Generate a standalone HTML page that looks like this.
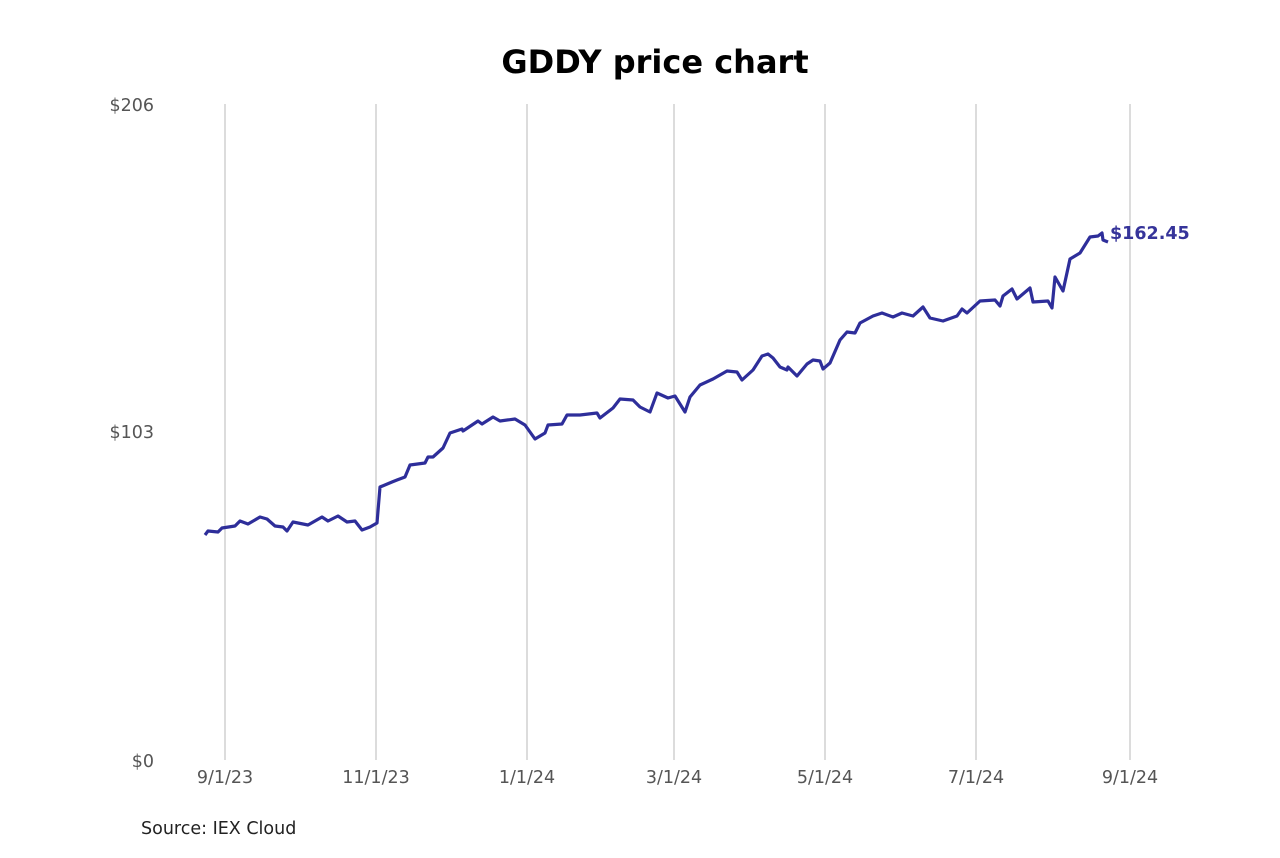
<!DOCTYPE html>
<html><head><meta charset="utf-8"><style>
body{margin:0;background:#fff;}
</style></head><body>
<svg width="1280" height="853" xmlns="http://www.w3.org/2000/svg" font-family="'DejaVu Sans','Liberation Sans',sans-serif">
<rect width="1280" height="853" fill="#fff"/>
<text x="655" y="73" text-anchor="middle" font-size="32" font-weight="bold" fill="#000">GDDY price chart</text>
<g stroke="#c4c4c4" stroke-width="1.2">
<line x1="225" y1="104" x2="225" y2="760"/><line x1="376" y1="104" x2="376" y2="760"/>
<line x1="527" y1="104" x2="527" y2="760"/><line x1="674" y1="104" x2="674" y2="760"/>
<line x1="825" y1="104" x2="825" y2="760"/><line x1="976" y1="104" x2="976" y2="760"/>
<line x1="1130" y1="104" x2="1130" y2="760"/>
</g>
<g font-size="17.5" fill="#555">
<text x="154" y="111" text-anchor="end">$206</text>
<text x="154" y="438" text-anchor="end">$103</text>
<text x="154" y="767" text-anchor="end">$0</text>
<g text-anchor="middle">
<text x="225" y="783">9/1/23</text><text x="376" y="783">11/1/23</text>
<text x="527" y="783">1/1/24</text><text x="674" y="783">3/1/24</text>
<text x="825" y="783">5/1/24</text><text x="976" y="783">7/1/24</text>
<text x="1130" y="783">9/1/24</text>
</g></g>
<text x="141" y="834" font-size="17.5" fill="#222">Source: IEX Cloud</text>
<polyline fill="none" stroke="#2e2e9a" stroke-width="3.2" stroke-linejoin="round" points="205,535 208,531 218,532 222,528 235,526 240,521 248,524 260,517 267,519 275,526 283,527 287,531 293,522 308,525 322,517 328,521 338,516 347,522 355,521 362,530 370,527 377,523 380,487 392,482 397,480 405,477 410,465 425,463 428,457 433,457 443,448 450,433 462,429 463,431 478,421 482,424 493,417 500,421 515,419 525,425 535,439 545,433 548,425 562,424 567,415 580,415 597,413 600,418 613,408 620,399 633,400 640,407 650,412 657,393 668,398 675,396 685,412 690,397 700,385 713,379 727,371 737,372 742,380 753,370 762,356 768,354 773,358 780,367 787,370 788,367 797,376 807,364 813,360 820,361 823,369 830,363 840,340 847,332 855,333 860,323 873,316 882,313 893,317 902,313 913,316 923,307 930,318 943,321 957,316 962,309 967,313 980,301 995,300 1000,306 1003,296 1012,289 1017,299 1030,288 1033,302 1048,301 1052,308 1055,277 1063,291 1070,259 1080,253 1090,237 1098,236 1102,233 1103,240 1108,242"/>
<text x="1110" y="239" font-size="17.5" font-weight="bold" fill="#36349a">$162.45</text>
</svg>
</body></html>
